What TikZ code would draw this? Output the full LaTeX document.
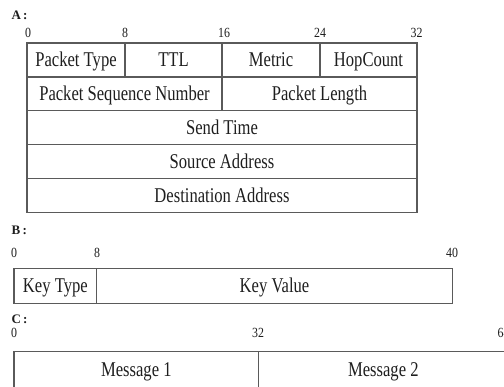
\documentclass[tikz,border=0pt]{standalone}
\usepackage{fontspec}
\setmainfont{Liberation Serif}
\usepackage{graphicx}
\definecolor{linegray}{HTML}{5A5A5A}
\definecolor{txt}{HTML}{1E1E1E}
\newcommand{\sqz}[1]{\scalebox{0.79}[1]{#1}}
\newcommand{\sqt}[1]{\scalebox{0.85}[1]{#1}}
\newcommand{\cellnode}[6]{%
  \node[cell, minimum width={#3-#2}, minimum height={#5-#4}] (#1) at ({(#2+#3)/2},{(#4+#5)/2}) {\sqz{#6}};}
\begin{document}
\begin{tikzpicture}[x=1pt,y=-1pt,
  cell/.style={draw=linegray, line width=1.3pt, inner sep=0pt, outer sep=0pt,
    font=\fontsize{21}{24}\selectfont, text=txt, text height=14pt, text depth=0.6pt},
  tick/.style={inner sep=0pt, font=\fontsize{14}{16}\selectfont, text=txt},
  lbl/.style={inner sep=0pt, anchor=west, font=\bfseries\fontsize{13}{15}\selectfont, text=txt}]
\useasboundingbox (0,0) rectangle (504,387);
\clip (0,0) rectangle (504,387);

% ---------- A ----------
\node[lbl] (labA) at (11.5,15) {A\,:};
\node[tick] (tA0)  at (28,33)  {\sqt{0}};
\node[tick] (tA8)  at (125,33) {\sqt{8}};
\node[tick] (tA16) at (224,33) {\sqt{16}};
\node[tick] (tA24) at (320,33) {\sqt{24}};
\node[tick] (tA32) at (416.5,33) {\sqt{32}};

\cellnode{ptype}{27}{125}{43}{77}{Packet Type}
\cellnode{ttl}{125}{222}{43}{77}{TTL}
\cellnode{metric}{222}{320}{43}{77}{Metric}
\cellnode{hop}{320}{417}{43}{77}{HopCount}
\cellnode{psn}{27}{222}{77}{110.5}{Packet Sequence Number}
\cellnode{plen}{222}{417}{77}{110.5}{Packet Length}
\cellnode{stime}{27}{417}{110.5}{144.5}{Send Time}
\cellnode{src}{27}{417}{144.5}{178.5}{Source Address}
\cellnode{dst}{27}{417}{178.5}{212.5}{Destination Address}

% ---------- B ----------
\node[lbl] (labB) at (11.5,230) {B\,:};
\node[tick] (tB0)  at (14,253)  {\sqt{0}};
\node[tick] (tB8)  at (97,253)  {\sqt{8}};
\node[tick] (tB40) at (452,253) {\sqt{40}};

\cellnode{ktype}{14}{96.7}{268.3}{303.3}{Key Type}
\cellnode{kval}{96.7}{452.3}{268.3}{303.3}{Key Value}

% ---------- C ----------
\node[lbl] (labC) at (11.5,319) {C\,:};
\node[tick] (tC0)  at (14,333)  {\sqt{0}};
\node[tick] (tC32) at (258,333) {\sqt{32}};
\node[tick] (tC64) at (503.5,333) {\sqt{64}};

\cellnode{msg1}{14}{258.7}{351.7}{388.5}{Message 1}
\cellnode{msg2}{258.7}{508}{351.7}{388.5}{Message 2}
\end{tikzpicture}
\end{document}
